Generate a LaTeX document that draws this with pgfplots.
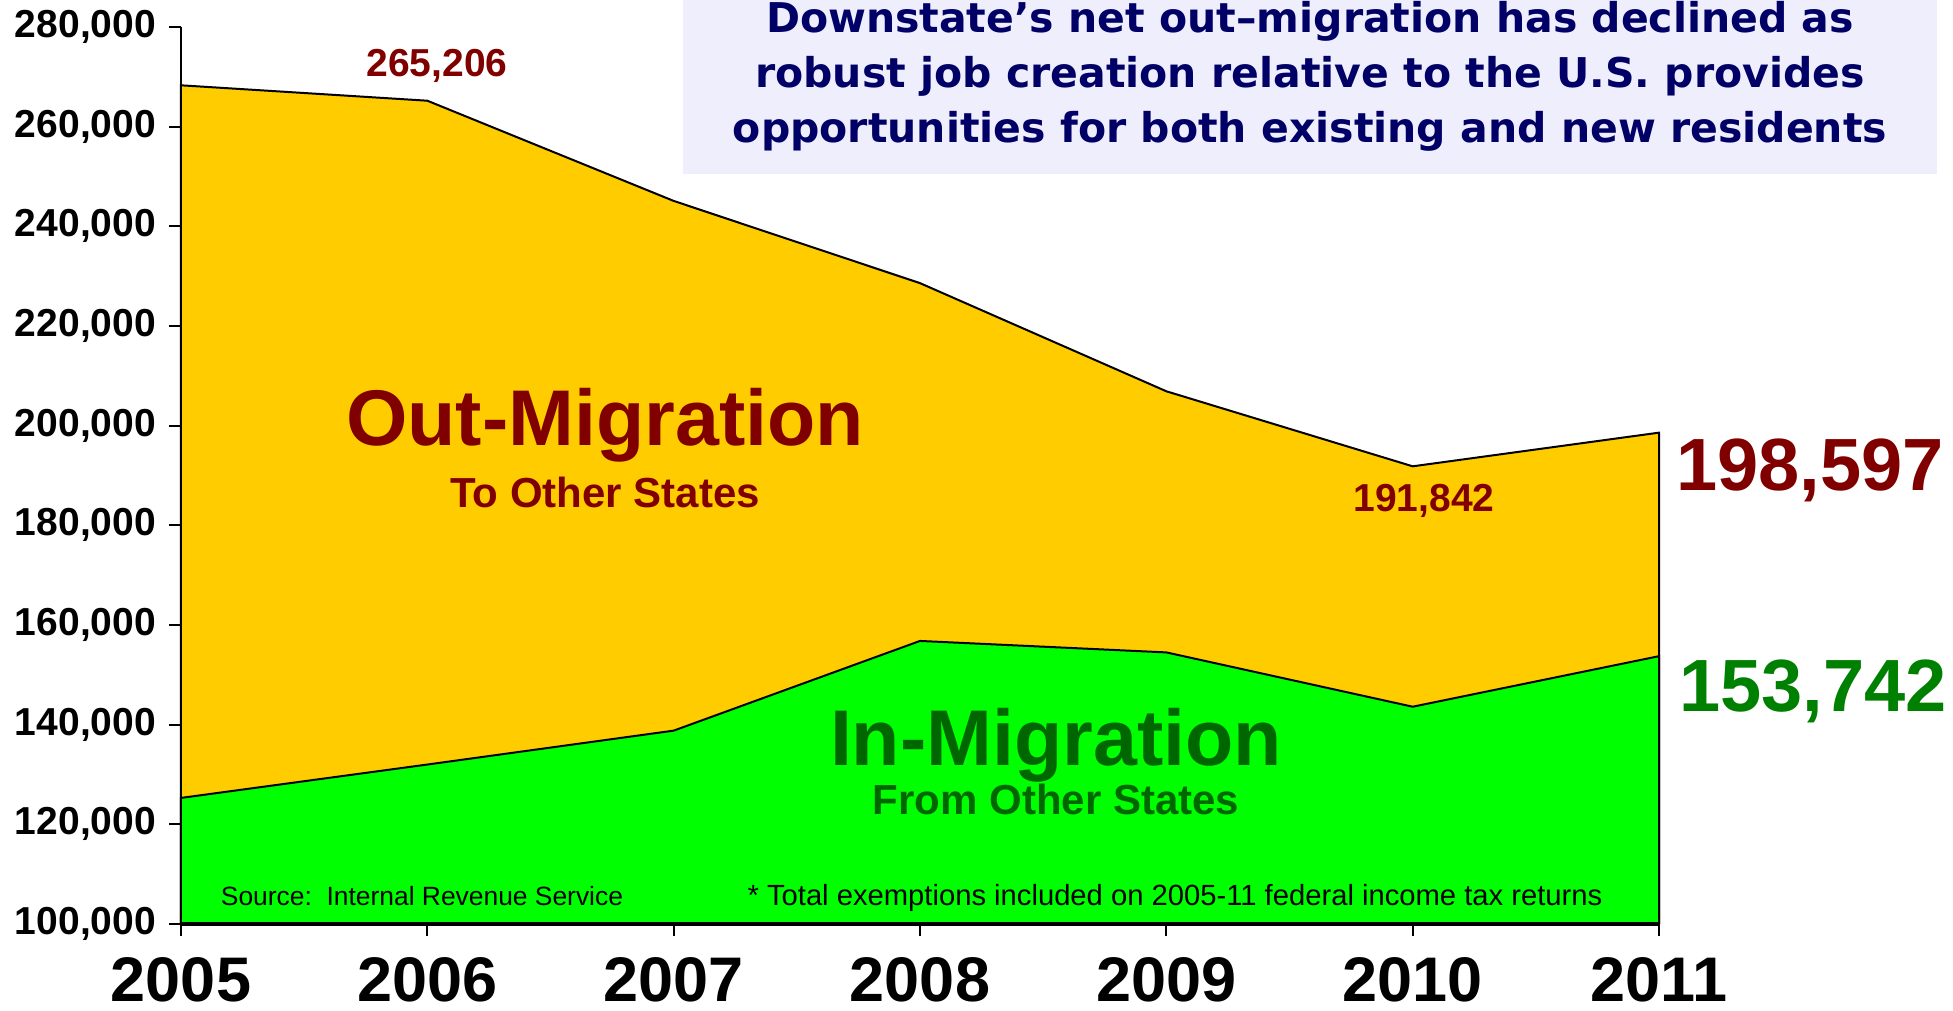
\documentclass[border=0pt]{standalone}
\usepackage{pgfplots}
\pgfplotsset{compat=1.18}
\usepackage{fontspec}
\setmainfont{Liberation Sans}
\newfontfamily\titlefont{DejaVu Sans}
\definecolor{gold}{HTML}{FFCC00}
\definecolor{lgreen}{HTML}{00FF00}
\definecolor{dred}{HTML}{800000}
\definecolor{dgreen}{HTML}{006600}
\definecolor{mgreen}{HTML}{008000}
\definecolor{navy}{HTML}{000066}
\definecolor{lav}{HTML}{EEEEFC}
\begin{document}
\begin{tikzpicture}[x=1pt,y=1pt]
\begin{axis}[at={(0,0)}, anchor=south west, scale only axis,
  width=739pt, height=448.5pt,
  xmin=2005, xmax=2011, ymin=100000, ymax=280000,
  axis x line=bottom, axis y line=left, axis line style={-},
  x axis line style={line width=1.6pt},
  y axis line style={line width=1pt},
  xtick={2005,2006,2007,2008,2009,2010,2011},
  xticklabels={2005,2006,2007,2008,2009,2010,2011},
  ytick={100000,120000,140000,160000,180000,200000,220000,240000,260000,280000},
  yticklabels={{100,000},{120,000},{140,000},{160,000},{180,000},{200,000},{220,000},{240,000},{260,000},{280,000}},
  yticklabel style={font=\bfseries\fontsize{19.5}{21}\selectfont, xshift=-3pt, inner ysep=0pt},
  xticklabel style={font=\bfseries\fontsize{31.5}{34}\selectfont, inner sep=0pt, yshift=-10.5pt},
  tick align=outside, major tick length=6pt,
  tick style={black, line width=1pt},
  axis on top, clip=false]
\addplot[fill=gold, draw=black, line width=1pt] coordinates {
  (2005,100000) (2005,268300) (2006,265206) (2007,245100) (2008,228600)
  (2009,206900) (2010,191842) (2011,198597) (2011,100000)};
\addplot[fill=lgreen, draw=black, line width=1pt] coordinates {
  (2005,100000) (2005,125300) (2006,132000) (2007,138800) (2008,156800)
  (2009,154500) (2010,143600) (2011,153742) (2011,100000)};
\end{axis}
% title box
\fill[lav] (251,375) rectangle (878,462);
\node[align=center, text=navy, font=\titlefont\bfseries\fontsize{20.5}{27.5}\selectfont] at (564.5,424)
  {Downstate’s net out–migration has declined as\\robust job creation relative to the U.S. provides\\opportunities for both existing and new residents};
% annotations
\node[anchor=base, text=dred, font=\bfseries\fontsize{19.5}{20}\selectfont] at (128,423.5) {265,206};
\node[anchor=base, text=dred, font=\bfseries\fontsize{19.5}{20}\selectfont] at (621.5,206) {191,842};
\node[anchor=base, text=dred, font=\bfseries\fontsize{37}{40}\selectfont] at (814.5,216.6) {198,597};
\node[anchor=base, text=mgreen, font=\bfseries\fontsize{37}{40}\selectfont] at (816,106.2) {153,742};
\node[anchor=base, text=dred, font=\bfseries\fontsize{39.5}{42}\selectfont] at (212,239) {Out-Migration};
\node[anchor=base, text=dred, font=\bfseries\fontsize{21}{23}\selectfont] at (212,208) {To Other States};
\node[anchor=base, text=dgreen, font=\bfseries\fontsize{39.5}{42}\selectfont] at (437.5,79) {In-Migration};
\node[anchor=base, text=dgreen, font=\bfseries\fontsize{21}{23}\selectfont] at (437.5,54.5) {From Other States};
\node[anchor=base, font=\fontsize{13.2}{15}\selectfont] at (120.5,9.25) {Source:\ \ Internal Revenue Service};
\node[anchor=base, font=\fontsize{14.6}{16}\selectfont] at (497,9.25) {* Total exemptions included on 2005-11 federal income tax returns};
\pgfresetboundingbox
\path (-90.5,-43.5) rectangle (886,462);
\end{tikzpicture}
\end{document}
